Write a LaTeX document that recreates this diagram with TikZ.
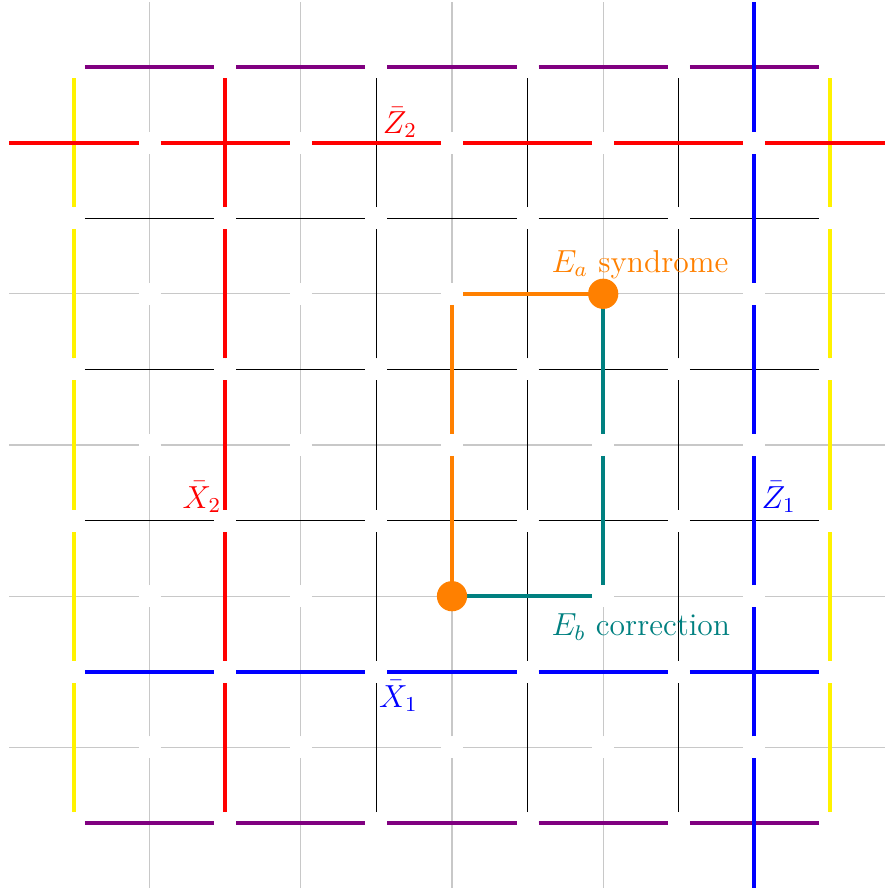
\documentclass[tikz,border=0pt]{standalone}
\definecolor{mypurple}{RGB}{128,0,128}
\definecolor{dualgray}{RGB}{200,200,200}
\definecolor{myorange}{RGB}{255,128,0}
\definecolor{myteal}{RGB}{0,128,128}
\begin{document}
\begin{tikzpicture}[x=2cm,y=2cm,
  edge/.style={shorten <=0.1455cm, shorten >=0.1455cm},
  primal/.style={edge, draw=black, line width=0.4pt},
  dual/.style={edge, draw=dualgray, line width=0.5pt},
  heavy/.style={edge, line width=1.5pt},
  defect/.style={circle, fill=myorange, inner sep=0pt, minimum size=0.4cm},
  lbl/.style={inner sep=0pt, anchor=base west, font=\fontsize{11.9}{14}\selectfont}]
\useasboundingbox (-0.4894,-0.4365) rectangle (5.3638,5.4431);
\clip (-0.4894,-0.4365) rectangle (5.3638,5.4431);
% primal vertices p<i><j> at (i,j), dual vertices d<i><j> at (i-0.5,j-0.5)
\foreach \i in {0,...,5} \foreach \j in {0,...,5} \coordinate (p\i\j) at (\i,\j);
\foreach \i in {0,...,6} \foreach \j in {0,...,6} \coordinate (d\i\j) at (\i-0.5,\j-0.5);
% dual lattice
\foreach \a/\b in {0/1,1/2,2/3,3/4,4/5,5/6} \foreach \c in {0,...,6} {
  \draw[dual] (d\a\c) -- (d\b\c);
  \draw[dual] (d\c\a) -- (d\c\b);
}
% primal lattice
\foreach \a/\b in {0/1,1/2,2/3,3/4,4/5} \foreach \c in {0,...,5} {
  \draw[primal] (p\a\c) -- (p\b\c);
  \draw[primal] (p\c\a) -- (p\c\b);
}
% boundaries
\foreach \a/\b in {0/1,1/2,2/3,3/4,4/5} {
  \draw[heavy, draw=mypurple] (p\a5) -- (p\b5);
  \draw[heavy, draw=mypurple] (p\a0) -- (p\b0);
  \draw[heavy, draw=yellow] (p0\a) -- (p0\b);
  \draw[heavy, draw=yellow] (p5\a) -- (p5\b);
}
% logical operators
\foreach \a/\b in {0/1,1/2,2/3,3/4,4/5} {
  \draw[heavy, draw=red] (p1\a) -- (p1\b);
  \draw[heavy, draw=blue] (p\a1) -- (p\b1);
}
\foreach \a/\b in {0/1,1/2,2/3,3/4,4/5,5/6} {
  \draw[heavy, draw=red] (d\a5) -- (d\b5);
  \draw[heavy, draw=blue] (d5\a) -- (d5\b);
}
% error and correction
\draw[heavy, draw=myorange] (d44) -- (d34);
\draw[heavy, draw=myorange] (d34) -- (d33);
\draw[heavy, draw=myorange] (d33) -- (d32);
\draw[heavy, draw=myteal] (d44) -- (d43);
\draw[heavy, draw=myteal] (d43) -- (d42);
\draw[heavy, draw=myteal] (d42) -- (d32);
\node[defect] (sa) at (d44) {};
\node[defect] (sb) at (d32) {};
% labels
\node[lbl, text=red] (lz2) at (2.04,4.563) {$\bar{Z}_2$};
\node[lbl, text=red] (lx2) at (0.715,2.083) {$\bar{X}_2$};
\node[lbl, text=blue] (lz1) at (4.545,2.083) {$\bar{Z}_1$};
\node[lbl, text=blue] (lx1) at (2.015,0.767) {$\bar{X}_1$};
\node[lbl, text=myorange] (lea) at (3.155,3.644) {$E_a$ syndrome};
\node[lbl, text=myteal] (leb) at (3.155,1.237) {$E_b$ correction};
\end{tikzpicture}
\end{document}
